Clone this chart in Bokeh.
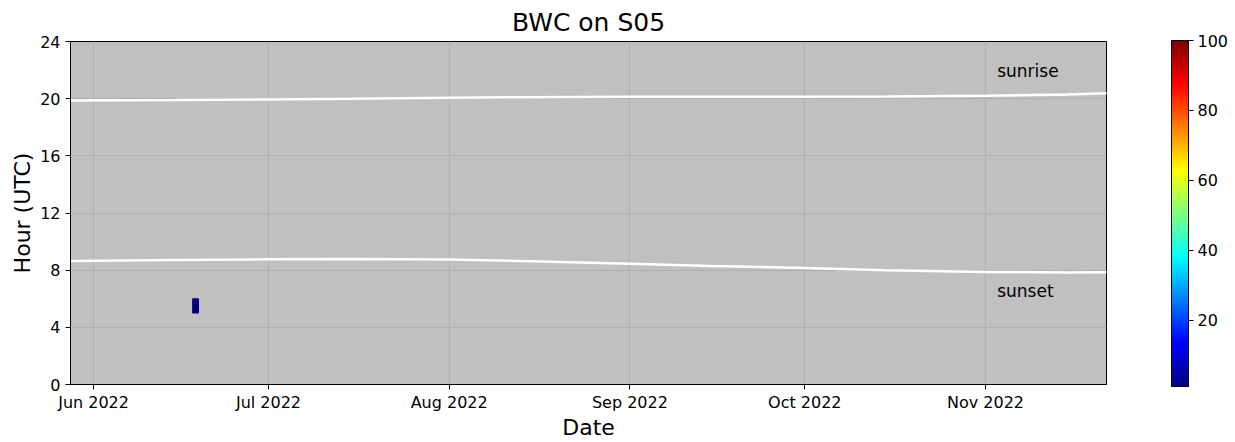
import numpy as np
import pandas as pd
from datetime import datetime
from bokeh.plotting import figure
from bokeh.models import (Range1d, FixedTicker, DatetimeTickFormatter, LinearColorMapper,
                          ColorBar, ColumnDataSource, Label)
from bokeh.embed import file_html
from bokeh.resources import INLINE

# ---------------- data ----------------
title = "BWC on S05"
sun_dates = ["2022-05-28", "2022-06-15", "2022-07-01", "2022-07-15", "2022-08-01", "2022-08-15",
             "2022-09-01", "2022-09-15", "2022-10-01", "2022-10-15", "2022-11-01", "2022-11-15",
             "2022-11-22"]
sunrise_hr = [19.88, 19.90, 19.95, 20.00, 20.07, 20.10, 20.13, 20.14, 20.13, 20.15, 20.20, 20.30, 20.38]
sunset_hr = [8.65, 8.72, 8.76, 8.78, 8.74, 8.62, 8.45, 8.30, 8.15, 8.00, 7.88, 7.84, 7.85]

cell_dates = ["2022-06-18"]
cell_hours = [5]
cell_values = [1]

x_tick_dates = ["2022-06-01", "2022-07-01", "2022-08-01", "2022-09-01", "2022-10-01", "2022-11-01"]
y_ticks = [0, 4, 8, 12, 16, 20, 24]
cbar_ticks = [20, 40, 60, 80, 100]
cbar_low, cbar_high = 1, 100

# ---------------- jet palette ----------------
def jet(n=256):
    out = []
    for x in np.linspace(0, 1, n):
        r = np.clip(1.5 - abs(4 * x - 3), 0, 1)
        g = np.clip(1.5 - abs(4 * x - 2), 0, 1)
        b = np.clip(1.5 - abs(4 * x - 1), 0, 1)
        out.append("#%02x%02x%02x" % (int(r * 255), int(g * 255), int(b * 255)))
    return out

FONT = "DejaVu Sans"
x_start = datetime(2022, 5, 28, 1)
x_end = datetime(2022, 11, 21, 18)

p = figure(width=1233, height=442, output_backend="svg", toolbar_location=None,
           x_axis_type="datetime",
           x_range=Range1d(x_start, x_end),
           y_range=Range1d(0, 24),
           min_border_left=70, min_border_top=40, min_border_bottom=58, min_border_right=127)

p.title.text = title
p.title.align = "center"
p.title.text_font = FONT
p.title.text_font_size = "25px"
p.title.text_font_style = "normal"
p.title.text_color = "black"

p.background_fill_color = "#c0c0c0"
p.border_fill_color = "white"
p.outline_line_color = "black"
p.outline_line_width = 1

# cells
mapper = LinearColorMapper(palette=jet(), low=cbar_low, high=cbar_high)
cd = pd.to_datetime(cell_dates)
src = ColumnDataSource(dict(
    left=cd, right=cd + pd.Timedelta(days=1),
    bottom=cell_hours, top=[h + 1 for h in cell_hours], v=cell_values))
p.quad(left="left", right="right", bottom="bottom", top="top", source=src,
       fill_color={"field": "v", "transform": mapper},
       line_color={"field": "v", "transform": mapper})

# sun lines
sd = pd.to_datetime(sun_dates)
p.line(sd, sunrise_hr, line_color="white", line_width=2.5)
p.line(sd, sunset_hr, line_color="white", line_width=2.5)

p.add_layout(Label(x=pd.Timestamp("2022-11-03").value / 1e6, y=21.25, text="sunrise",
                   text_font=FONT, text_font_size="17px", text_color="black"))
p.add_layout(Label(x=pd.Timestamp("2022-11-03").value / 1e6, y=5.85, text="sunset",
                   text_font=FONT, text_font_size="17px", text_color="black"))

# axes
xt = [pd.Timestamp(d).value / 1e6 for d in x_tick_dates]
p.xaxis.ticker = FixedTicker(ticks=xt)
p.xaxis.formatter = DatetimeTickFormatter(months="%b %Y", days="%b %Y", hours="%b %Y",
                                          years="%b %Y")
p.yaxis.ticker = FixedTicker(ticks=y_ticks)
p.xaxis.axis_label = "Date"
p.yaxis.axis_label = "Hour (UTC)"
for ax in (p.xaxis, p.yaxis):
    ax.axis_label_text_font = FONT
    ax.axis_label_text_font_size = "22px"
    ax.axis_label_text_font_style = "normal"
    ax.axis_label_text_color = "black"
    ax.major_label_text_font = FONT
    ax.major_label_text_font_size = "16px"
    ax.major_label_text_color = "black"
    ax.major_tick_in = 0
    ax.major_tick_out = 5
    ax.minor_tick_out = 0
    ax.minor_tick_in = 0
    ax.axis_line_color = "black"
    ax.major_tick_line_color = "black"
p.xaxis.major_label_standoff = 3
p.xaxis.axis_label_standoff = 0
p.yaxis.axis_label_standoff = 2

p.grid.grid_line_color = "#b0b0b0"
p.grid.grid_line_width = 1

cb = ColorBar(color_mapper=mapper, ticker=FixedTicker(ticks=cbar_ticks),
              width=17, height=346, padding=0, margin=0, location=(1036 + 65, -2),
              major_label_text_font=FONT, major_label_text_font_size="16px",
              major_label_text_color="black",
              major_tick_in=0, major_tick_out=5, major_tick_line_color="black",
              bar_line_color="black", bar_line_width=1,
              label_standoff=4, background_fill_color=None, border_line_color=None)
p.add_layout(cb, "center")

open("out.html", "w").write(file_html(p, INLINE))
